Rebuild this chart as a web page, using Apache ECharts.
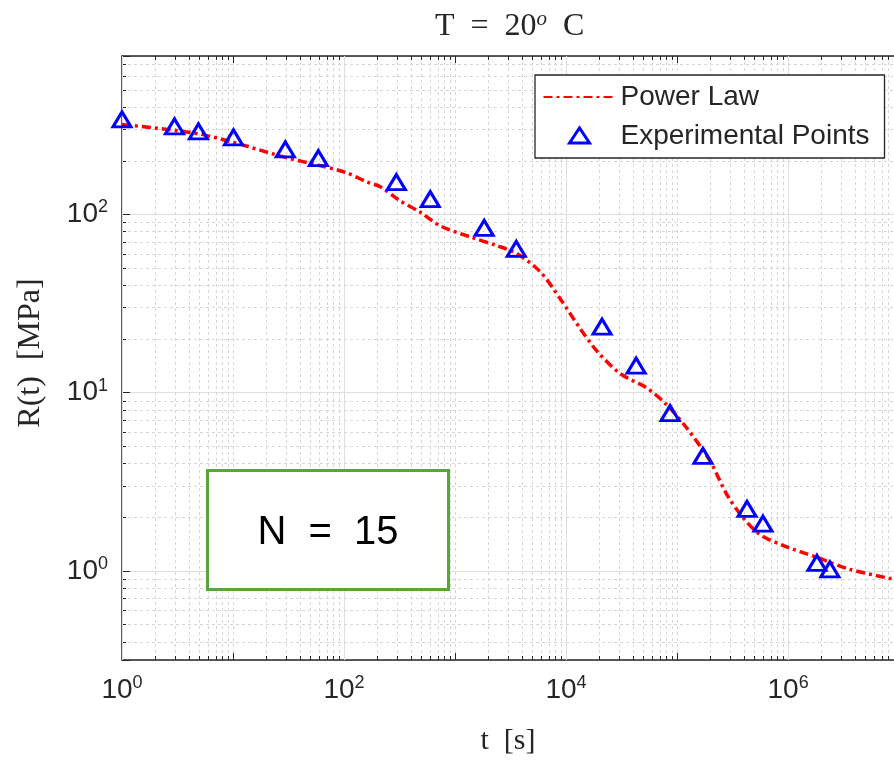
<!DOCTYPE html>
<html>
<head>
<meta charset="utf-8">
<script src="https://cdn.jsdelivr.net/npm/echarts@6/dist/echarts.min.js"></script>
<style>
  html, body { margin: 0; padding: 0; background: #fff; }
  #chart { width: 894px; height: 761px; }
</style>
</head>
<body>
<div id="chart"></div>
<script>
// power law fit curve (t in s, R in MPa)
const fitTime = [1, 2.57, 5.09, 10.1, 29.6, 58.7, 101, 162, 212, 315, 486, 736, 1371, 2399, 3630,
  5850, 8850, 13400, 19000, 30700, 53700, 81300, 123000, 198000, 282000, 393000, 558000, 899000,
  1.82e6, 3.6e6, 8.8e6];
const fitModulus = [320, 300, 282, 254, 209, 189, 173, 152, 143, 120, 103, 86.3, 74.8, 66.7, 60.2,
  47.7, 33.7, 22.9, 17.1, 12.8, 10.6, 8.5, 6.3, 4.14, 2.67, 1.99, 1.60, 1.39,
  1.19, 1.02, 0.90];

// experimental points
const expTime = [1, 2.97, 4.88, 10.1, 29.6, 58.7, 296, 598, 1830, 3560, 21100, 42800, 86500,
  171000, 427000, 594000, 1.82e6, 2.38e6];
const expModulus = [342, 312, 293, 271, 232, 207, 152, 122, 84.1, 64.1, 23.5, 14.2, 7.68,
  4.42, 2.23, 1.84, 1.11, 1.02];

// axis limits and the decades that get a solid grid line on x
const xLimits = [1, 9e6];
const yLimits = [0.316, 775];
const xMajorTicks = [1, 1e2, 1e4, 1e6];

const axisColor = '#262626';
const gridColor = '#dedede';
const dotted = { color: '#d6d6d6', width: 1, type: [3, 3] };
const markerStyle = { color: 'rgba(255,255,255,0)', borderColor: '#0000ff', borderWidth: 3, opacity: 1 };

function powLabel(v) {
  const e = Math.log10(v);
  const r = Math.round(e);
  if (Math.abs(e - r) > 1e-6) return '';
  return '10{sup|' + r + '}';
}
function xPowLabel(v) {
  const e = Math.log10(v);
  const r = Math.round(e);
  if (Math.abs(e - r) > 1e-6 || r % 2 !== 0) return '';
  return '10{sup|' + r + '}';
}

const labelRich = {
  sup: { fontSize: 18, fontFamily: 'Liberation Sans', color: axisColor, padding: [0, 0, 14, 0] }
};

// small triangle centred in the 72x20 legend icon box (the move-tos only fix the box)
const legendTriangle = 'path://M0,0 M72,20 M26,17 L36,2 L46,17 Z';

const chart = echarts.init(document.getElementById('chart'));
chart.setOption({
  animation: false,
  backgroundColor: '#fff',
  title: {
    text: 'T  =  20{sup|o}  C',
    left: 430,
    top: 4,
    textStyle: {
      fontFamily: 'Liberation Serif',
      fontSize: 32,
      fontWeight: 'normal',
      color: axisColor,
      rich: {
        sup: { fontFamily: 'Liberation Serif', fontStyle: 'italic', fontSize: 21, color: axisColor, padding: [0, 0, 15, 0] }
      }
    }
  },
  grid: { left: 122, right: 0, top: 56, bottom: 100, containLabel: false },
  legend: {
    orient: 'vertical',
    left: 535,
    top: 75,
    padding: [8, 15, 8, 7],
    itemGap: 11,
    itemWidth: 72,
    itemHeight: 20,
    backgroundColor: '#fff',
    borderColor: axisColor,
    borderWidth: 1.3,
    borderRadius: 0,
    textStyle: { fontFamily: 'Liberation Sans', fontSize: 28, color: axisColor },
    data: [
      { name: 'Power Law', itemStyle: { opacity: 0 } },
      { name: 'Experimental Points', icon: legendTriangle, itemStyle: markerStyle }
    ]
  },
  xAxis: [
    {
      type: 'log',
      position: 'bottom',
      min: xLimits[0],
      max: xLimits[1],
      splitNumber: 7,
      name: 't  [s]',
      nameLocation: 'middle',
      nameGap: 66,
      nameTextStyle: { fontFamily: 'Liberation Serif', fontSize: 30, color: axisColor },
      axisLine: { show: true, lineStyle: { color: axisColor, width: 1.5 } },
      axisTick: { show: true, inside: true, length: 7, lineStyle: { color: axisColor } },
      minorTick: { show: true, splitNumber: 9, length: 4, lineStyle: { color: axisColor } },
      axisLabel: {
        formatter: xPowLabel,
        fontFamily: 'Liberation Sans',
        fontSize: 28,
        color: axisColor,
        margin: 14,
        showMinLabel: true,
        showMaxLabel: false,
        rich: labelRich
      },
      splitLine: { show: true, lineStyle: dotted },
      minorSplitLine: { show: true, lineStyle: dotted }
    },
    {
      type: 'log',
      position: 'top',
      min: xLimits[0],
      max: xLimits[1],
      splitNumber: 7,
      axisLine: { show: true, lineStyle: { color: axisColor, width: 1.5 } },
      axisTick: { show: true, inside: true, length: 7, lineStyle: { color: axisColor } },
      minorTick: { show: true, splitNumber: 9, length: 4, lineStyle: { color: axisColor } },
      axisLabel: { show: false },
      splitLine: { show: false }
    }
  ],
  yAxis: {
    type: 'log',
    min: yLimits[0],
    max: yLimits[1],
    splitNumber: 3,
    name: 'R(t)  [MPa]',
    nameLocation: 'middle',
    nameGap: 75,
    nameTextStyle: { fontFamily: 'Liberation Serif', fontSize: 32, color: axisColor, padding: [0, 0, 0, 10] },
    axisLine: { show: true, lineStyle: { color: axisColor, width: 1.5 } },
    axisTick: { show: true, inside: true, length: 8, lineStyle: { color: axisColor } },
    minorTick: { show: true, splitNumber: 9, length: 4, lineStyle: { color: axisColor } },
    axisLabel: {
      formatter: powLabel,
      fontFamily: 'Liberation Sans',
      fontSize: 28,
      color: axisColor,
      margin: 14,
      rich: labelRich
    },
    splitLine: { show: true, lineStyle: { color: gridColor, width: 1 } },
    minorSplitLine: { show: true, lineStyle: dotted }
  },
  series: [
    {
      name: 'Power Law',
      type: 'line',
      xAxisIndex: 0,
      data: fitTime.map((t, i) => [t, fitModulus[i]]),
      symbol: 'none',
      showSymbol: false,
      smooth: 0.3,
      clip: true,
      z: 3,
      lineStyle: { color: '#ff0000', width: 3.5, type: [9, 4, 3, 4] },
      itemStyle: { color: '#ff0000' },
      markLine: {
        silent: true,
        symbol: 'none',
        label: { show: false },
        z: 1,
        lineStyle: { color: gridColor, width: 1, type: 'solid' },
        data: xMajorTicks.map(v => ({ xAxis: v }))
      }
    },
    {
      name: 'Experimental Points',
      type: 'scatter',
      xAxisIndex: 0,
      data: expTime.map((t, i) => [t, expModulus[i]]),
      symbol: 'triangle',
      symbolSize: [18, 15],
      z: 4,
      itemStyle: markerStyle
    }
  ],
  graphic: [
    {
      type: 'rect',
      z: 100,
      shape: { x: 207.5, y: 470.5, width: 241, height: 119 },
      style: { fill: '#fff', stroke: '#56a63a', lineWidth: 3 }
    },
    {
      type: 'text',
      z: 101,
      x: 328,
      y: 533,
      style: {
        text: 'N  =  15',
        fontFamily: 'Liberation Sans',
        fontSize: 40,
        fill: '#000',
        align: 'center',
        verticalAlign: 'middle'
      }
    }
  ]
});
</script>
</body>
</html>
